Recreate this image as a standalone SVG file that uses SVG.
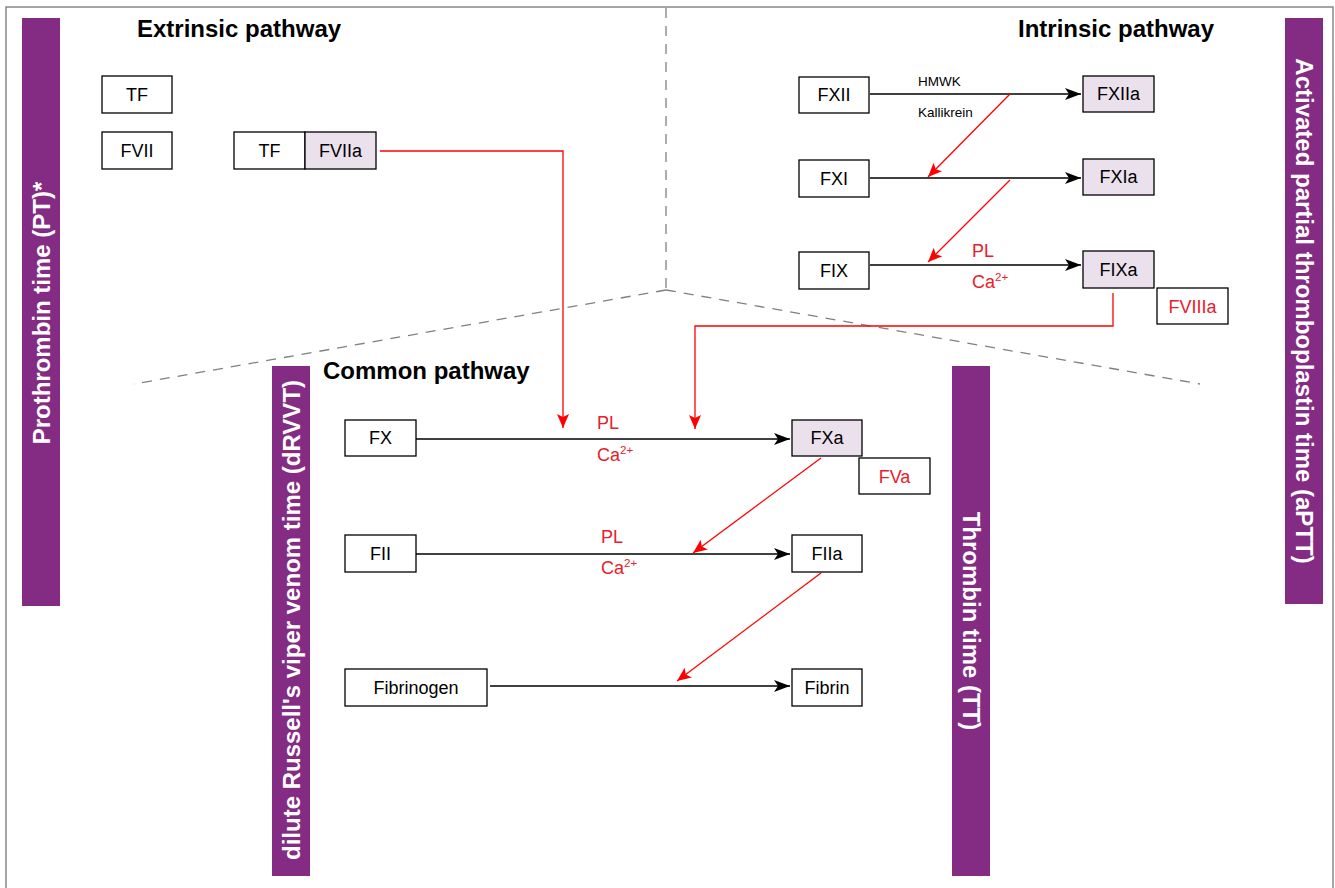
<svg xmlns="http://www.w3.org/2000/svg" width="1335" height="888" viewBox="0 0 1335 888">
<style>
text{font-family:"Liberation Sans",Arial,sans-serif}
.box rect{fill:#fff;stroke:#000;stroke-width:1.3}
.box rect.act{fill:#ebe1ec}
.box text{font-size:18px;text-anchor:middle;fill:#000}
.box text.rt{fill:#e8202a}
.title{font-size:24px;font-weight:bold;fill:#000}
.bar rect{fill:#842b84}
.bar text{font-size:24px;font-weight:bold;fill:#fff;text-anchor:middle}
.blk{stroke:#000;stroke-width:1.5;fill:none}
.red{stroke:#ff0000;stroke-width:1.3;fill:none}
.lbl{font-size:18px;fill:#e8202a}
.sm{font-size:13.5px;fill:#000}
.dash{stroke:#808080;stroke-width:1.3;stroke-dasharray:10 8;fill:none}
</style>
<defs>
<marker id="ab" markerWidth="16" markerHeight="12" refX="16" refY="6" orient="auto" markerUnits="userSpaceOnUse"><path d="M0,0 L16,6 L0,12 L4,6 Z" fill="#000"/></marker>
<marker id="ar" markerWidth="14" markerHeight="12" refX="14" refY="6" orient="auto" markerUnits="userSpaceOnUse"><path d="M0,0 L14,6 L0,12 L3,6 Z" fill="#ff0000"/></marker>
</defs>
<rect x="6" y="7" width="1327" height="895" fill="#fff" stroke="#888" stroke-width="1.5"/>
<g id="dividers">
<path class="dash" d="M666,8 L666,290"/>
<path class="dash" d="M666,290 L134,384"/>
<path class="dash" d="M666,290 L1200,384"/>
</g>
<g id="titles">
<text class="title" x="137" y="37">Extrinsic pathway</text>
<text class="title" x="1018" y="37">Intrinsic pathway</text>
<text class="title" x="323" y="379">Common pathway</text>
</g>
<g id="bar-pt" class="bar"><rect x="22" y="18" width="38" height="588"/><text transform="translate(49.5,313) rotate(-90)">Prothrombin time (PT)*</text></g>
<g id="bar-aptt" class="bar"><rect x="1285" y="18" width="38" height="586"/><text transform="translate(1295.5,311) rotate(90)">Activated partial thromboplastin time (aPTT)</text></g>
<g id="bar-drvvt" class="bar"><rect x="272" y="366" width="38" height="510"/><text transform="translate(299.5,620) rotate(-90)">dilute Russell's viper venom time (dRVVT)</text></g>
<g id="bar-tt" class="bar"><rect x="952" y="366" width="38" height="510"/><text transform="translate(962.5,621) rotate(90)">Thrombin time (TT)</text></g>
<g id="connectors">
<path class="blk" d="M870,94 L1081,94" marker-end="url(#ab)"/>
<path class="blk" d="M870,178 L1081,178" marker-end="url(#ab)"/>
<path class="blk" d="M870,265 L1081,265" marker-end="url(#ab)"/>
<path class="blk" d="M416,439 L790,439" marker-end="url(#ab)"/>
<path class="blk" d="M416,554 L790,554" marker-end="url(#ab)"/>
<path class="blk" d="M490,686 L790,686" marker-end="url(#ab)"/>
<path class="red" d="M1010,94 L928,177" marker-end="url(#ar)"/>
<path class="red" d="M1010,180 L928,262" marker-end="url(#ar)"/>
<path class="red" d="M380,151 L563,151 L563,428" marker-end="url(#ar)"/>
<path class="red" d="M1113,293 L1113,326 L695,326 L695,429" marker-end="url(#ar)"/>
<path class="red" d="M821,458 L693,553" marker-end="url(#ar)"/>
<path class="red" d="M821,573 L677,681" marker-end="url(#ar)"/>
<text class="sm" x="918" y="86">HMWK</text>
<text class="sm" x="918" y="117">Kallikrein</text>
<text class="lbl" x="972" y="257">PL</text>
<text class="lbl" x="972" y="288">Ca<tspan font-size="11.5" dy="-7">2+</tspan></text>
<text class="lbl" x="597" y="429">PL</text>
<text class="lbl" x="597" y="461">Ca<tspan font-size="11.5" dy="-7">2+</tspan></text>
<text class="lbl" x="601" y="543">PL</text>
<text class="lbl" x="601" y="574">Ca<tspan font-size="11.5" dy="-7">2+</tspan></text>
</g>
<g id="n-tf" class="box"><rect x="102" y="76" width="70" height="37"/><text x="137" y="101">TF</text></g>
<g id="n-fvii" class="box"><rect x="102" y="132" width="70" height="37"/><text x="137" y="157">FVII</text></g>
<g id="n-tf-fviia" class="box"><rect x="234" y="132" width="71" height="37"/><text x="269.5" y="157">TF</text><rect class="act" x="305" y="132" width="71" height="37"/><text x="340.5" y="157">FVIIa</text></g>
<g id="n-fxii" class="box"><rect x="799" y="77" width="70" height="36"/><text x="834" y="101">FXII</text></g>
<g id="n-fxiia" class="box"><rect class="act" x="1083" y="76" width="71" height="36"/><text x="1118.5" y="100">FXIIa</text></g>
<g id="n-fxi" class="box"><rect x="799" y="160" width="70" height="37"/><text x="834" y="185">FXI</text></g>
<g id="n-fxia" class="box"><rect class="act" x="1083" y="159" width="71" height="36"/><text x="1118.5" y="183">FXIa</text></g>
<g id="n-fix" class="box"><rect x="799" y="252" width="70" height="37"/><text x="834" y="277">FIX</text></g>
<g id="n-fixa" class="box"><rect class="act" x="1083" y="251" width="71" height="37"/><text x="1118.5" y="276">FIXa</text></g>
<g id="n-fviiia" class="box"><rect x="1157" y="288" width="71" height="36"/><text class="rt" x="1192.5" y="313">FVIIIa</text></g>
<g id="n-fx" class="box"><rect x="345" y="420" width="71" height="36"/><text x="380.5" y="444">FX</text></g>
<g id="n-fxa" class="box"><rect class="act" x="792" y="420" width="70" height="36"/><text x="827" y="444">FXa</text></g>
<g id="n-fva" class="box"><rect x="859" y="458" width="71" height="36"/><text class="rt" x="894.5" y="483">FVa</text></g>
<g id="n-fii" class="box"><rect x="345" y="535" width="71" height="37"/><text x="380.5" y="560">FII</text></g>
<g id="n-fiia" class="box"><rect x="792" y="535" width="70" height="37"/><text x="827" y="560">FIIa</text></g>
<g id="n-fibrinogen" class="box"><rect x="345" y="669" width="142" height="37"/><text x="416" y="694">Fibrinogen</text></g>
<g id="n-fibrin" class="box"><rect x="792" y="669" width="70" height="37"/><text x="827" y="694">Fibrin</text></g>
</svg>
